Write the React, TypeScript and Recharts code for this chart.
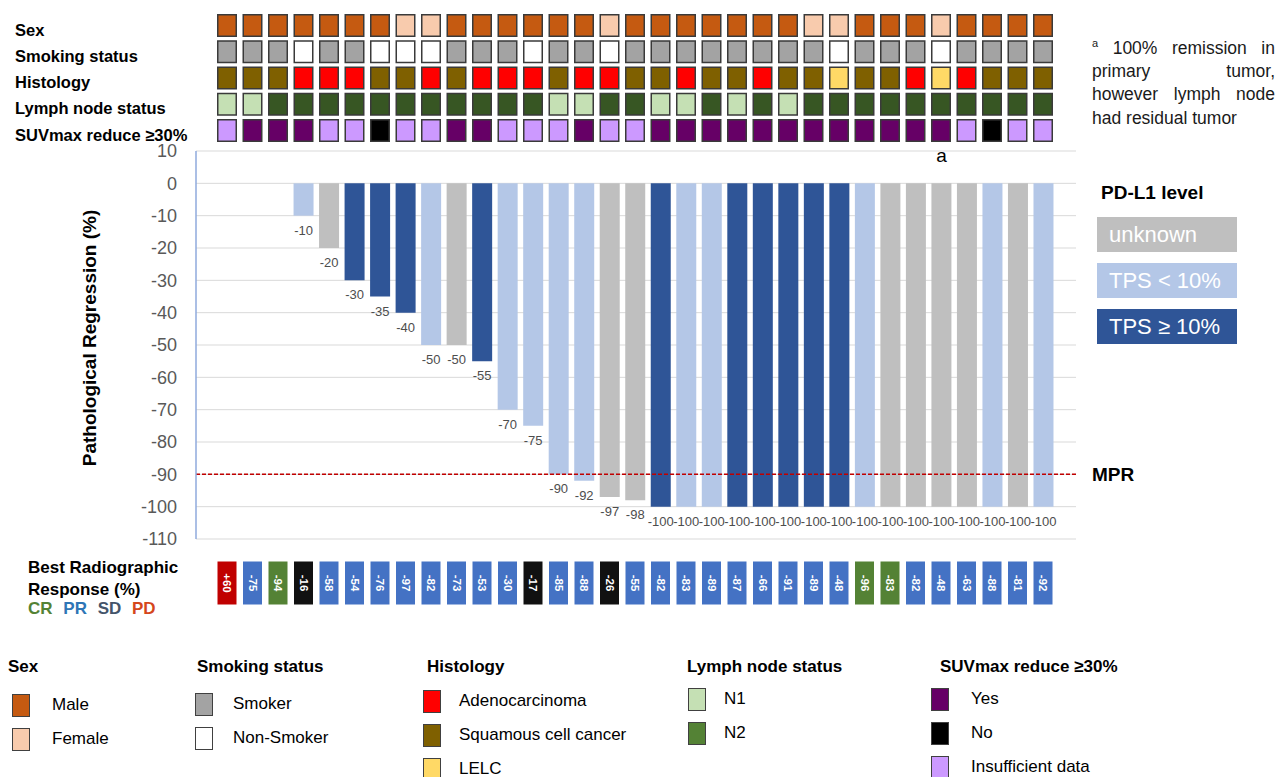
import React from 'react'
import {
  Bar,
  BarChart,
  CartesianGrid,
  Cell,
  LabelList,
  ReferenceLine,
  Scatter,
  ScatterChart,
  XAxis,
  YAxis,
} from 'recharts'

const FONT = '"Liberation Sans", Arial, Helvetica, sans-serif'

// one entry per patient, left to right
const sex = ['M', 'M', 'M', 'M', 'M', 'M', 'M', 'F', 'F', 'M', 'M', 'M', 'M', 'M', 'M', 'F', 'M', 'M', 'M', 'M', 'M', 'M', 'M', 'F', 'F', 'M', 'M', 'M', 'F', 'M', 'M', 'M', 'M']
const smoking = ['S', 'S', 'S', 'N', 'S', 'S', 'N', 'N', 'N', 'S', 'S', 'S', 'N', 'S', 'S', 'N', 'S', 'S', 'S', 'S', 'S', 'S', 'S', 'S', 'N', 'S', 'S', 'S', 'N', 'S', 'S', 'S', 'S']
const histology = ['Sq', 'Sq', 'Sq', 'A', 'A', 'A', 'Sq', 'Sq', 'A', 'Sq', 'A', 'A', 'A', 'Sq', 'A', 'A', 'Sq', 'Sq', 'A', 'Sq', 'Sq', 'A', 'Sq', 'Sq', 'L', 'Sq', 'Sq', 'A', 'L', 'A', 'Sq', 'Sq', 'Sq']
const lymphNode = ['N1', 'N1', 'N2', 'N2', 'N2', 'N2', 'N2', 'N2', 'N2', 'N2', 'N2', 'N2', 'N2', 'N1', 'N1', 'N2', 'N2', 'N1', 'N1', 'N2', 'N1', 'N2', 'N1', 'N2', 'N2', 'N2', 'N2', 'N2', 'N2', 'N2', 'N2', 'N2', 'N2']
const suvReduce = ['I', 'Y', 'Y', 'Y', 'I', 'I', 'N', 'I', 'I', 'Y', 'Y', 'I', 'I', 'I', 'Y', 'I', 'I', 'Y', 'Y', 'Y', 'Y', 'Y', 'Y', 'Y', 'Y', 'Y', 'Y', 'Y', 'Y', 'I', 'N', 'I', 'I']

const regression: (number | null)[] = [null, null, null, -10, -20, -30, -35, -40, -50, -50, -55, -70, -75, -90, -92, -97, -98, -100, -100, -100, -100, -100, -100, -100, -100, -100, -100, -100, -100, -100, -100, -100, -100]
const pdl1: (string | null)[] = [null, null, null, 'low', 'unknown', 'high', 'high', 'high', 'low', 'unknown', 'high', 'low', 'low', 'low', 'low', 'unknown', 'unknown', 'high', 'low', 'low', 'high', 'high', 'high', 'high', 'high', 'low', 'unknown', 'unknown', 'unknown', 'unknown', 'low', 'unknown', 'low']
const notes: Record<number, string> = { 28: 'a' }

const radioResponse = [60, -75, -94, -16, -58, -54, -76, -97, -82, -73, -53, -30, -17, -85, -88, -26, -55, -82, -83, -89, -87, -66, -91, -89, -48, -96, -83, -82, -48, -63, -88, -81, -92]
const radioCategory = ['PD', 'PR', 'CR', 'SD', 'PR', 'PR', 'PR', 'PR', 'PR', 'PR', 'PR', 'PR', 'SD', 'PR', 'PR', 'SD', 'PR', 'PR', 'PR', 'PR', 'PR', 'PR', 'PR', 'PR', 'PR', 'CR', 'CR', 'PR', 'PR', 'PR', 'PR', 'PR', 'PR']

const rowNames = ['Sex', 'Smoking status', 'Histology', 'Lymph node status', 'SUVmax reduce \u226530%']
const regressionTicks = [10, 0, -10, -20, -30, -40, -50, -60, -70, -80, -90, -100, -110]

const sexColors: Record<string, string> = { M: '#c55a11', F: '#f8cbad' }
const smokingColors: Record<string, string> = { S: '#a3a3a3', N: '#ffffff' }
const histologyColors: Record<string, string> = { A: '#ff0000', Sq: '#7f6000', L: '#ffd966' }
const lymphColors: Record<string, string> = { N1: '#c5e0b4', N2: '#375623' }
const suvColors: Record<string, string> = { Y: '#660066', N: '#000000', I: '#cc99ff' }
const pdl1Colors: Record<string, string> = { unknown: '#bfbfbf', low: '#b4c7e7', high: '#2f5597' }
const radioColors: Record<string, string> = { PD: '#c00000', PR: '#4472c4', CR: '#548235', SD: '#111111' }

const heatRows = [
  { codes: sex, colors: sexColors },
  { codes: smoking, colors: smokingColors },
  { codes: histology, colors: histologyColors },
  { codes: lymphNode, colors: lymphColors },
  { codes: suvReduce, colors: suvColors },
]

const heatCells = heatRows.flatMap((r, row) =>
  r.codes.map((code, col) => ({ col, row, color: r.colors[code] })),
)

const barData = regression.map((value, i) => ({
  id: `P${i + 1}`,
  regression: value,
  level: pdl1[i],
  note: notes[i],
}))

const responseCells = radioResponse.map((v, col) => ({
  col,
  row: 0,
  text: v > 0 ? `+${v}` : `${v}`,
  color: radioColors[radioCategory[col]],
}))

const legendGroups = [
  { title: 'Sex', tx: 8, bx: 12, lx: 52, top: 694, items: [['Male', '#c55a11'], ['Female', '#f8cbad']] },
  { title: 'Smoking status', tx: 197, bx: 195, lx: 233, top: 693, items: [['Smoker', '#a3a3a3'], ['Non-Smoker', '#ffffff']] },
  { title: 'Histology', tx: 427, bx: 423, lx: 459, top: 690, items: [['Adenocarcinoma', '#ff0000'], ['Squamous cell cancer', '#7f6000'], ['LELC', '#ffd966']] },
  { title: 'Lymph node status', tx: 687, bx: 688, lx: 724, top: 688, items: [['N1', '#c5e0b4'], ['N2', '#548235']] },
  { title: 'SUVmax reduce \u226530%', tx: 940, bx: 931, lx: 971, top: 688, items: [['Yes', '#660066'], ['No', '#000000'], ['Insufficient data', '#cc99ff']] },
]

const pdl1Legend = [
  ['unknown', '#bfbfbf'],
  ['TPS < 10%', '#b4c7e7'],
  ['TPS \u2265 10%', '#2f5597'],
]

function Txt({ x, y, children, style }: { x: number; y: number; children: React.ReactNode; style?: React.CSSProperties }) {
  return (
    <div style={{ position: 'absolute', left: x, top: y - 10, lineHeight: '20px', whiteSpace: 'nowrap', ...style }}>
      {children}
    </div>
  )
}

function renderHeatCell(props: any) {
  const { cx, cy, payload } = props
  return <rect x={cx - 9.25} y={cy - 10.75} width={18.5} height={21.5} fill={payload.color} stroke="#3a3a3a" strokeWidth={1.5} />
}

function renderResponseCell(props: any) {
  const { cx, cy, payload } = props
  return (
    <g>
      <rect x={cx - 9.5} y={cy - 21.5} width={19} height={43} fill={payload.color} />
      <text
        x={cx}
        y={cy}
        transform={`rotate(90 ${cx} ${cy})`}
        textAnchor="middle"
        dominantBaseline="central"
        fill="#ffffff"
        fontSize={11.5}
        fontWeight="bold"
        fontFamily={FONT}
      >
        {payload.text}
      </text>
    </g>
  )
}

function renderRowTick(props: any) {
  const { y, payload } = props
  return (
    <text x={15} y={Number(y) + 10} fontSize={16.5} fontWeight="bold" fill="#000" fontFamily={FONT}>
      {rowNames[payload.value]}
    </text>
  )
}

function renderBarLabel(props: any) {
  const { x, y, width, height, value } = props
  if (value === null || value === undefined) return null
  const bottom = Math.max(Number(y), Number(y) + Number(height))
  return (
    <text x={Number(x) + Number(width) / 2} y={bottom + 19} textAnchor="middle" fill="#4d4d4d" fontSize={13} fontFamily={FONT}>
      {value}
    </text>
  )
}

function renderNote(props: any) {
  const { x, y, width, height, value } = props
  if (!value) return null
  const top = Math.min(Number(y), Number(y) + Number(height))
  return (
    <text x={Number(x) + Number(width) / 2} y={top - 21} textAnchor="middle" fill="#000" fontSize={19} fontFamily={FONT}>
      {value}
    </text>
  )
}

export default function App() {
  return (
    <div
      style={{
        position: 'absolute',
        left: 0,
        top: 0,
        width: 1276,
        height: 777,
        background: '#fff',
        overflow: 'hidden',
        fontFamily: FONT,
        color: '#000',
      }}
    >
      {/* patient characteristics */}
      <div style={{ position: 'absolute', left: 0, top: 0 }}>
        <ScatterChart width={1080} height={150} margin={{ top: 12.375, right: 24.25, bottom: 6.375, left: 0 }}>
          <XAxis type="number" dataKey="col" domain={[-0.5, 32.5]} hide allowDataOverflow />
          <YAxis
            type="number"
            dataKey="row"
            domain={[-0.5, 4.5]}
            reversed
            allowDataOverflow
            width={214.25}
            ticks={[0, 1, 2, 3, 4]}
            interval={0}
            axisLine={false}
            tickLine={false}
            tick={renderRowTick}
          />
          <Scatter data={heatCells} shape={renderHeatCell} isAnimationActive={false} />
        </ScatterChart>
      </div>

      {/* pathological regression */}
      <div style={{ position: 'absolute', left: 0, top: 0 }}>
        <BarChart width={1276} height={560} data={barData} margin={{ top: 151, right: 200, bottom: 21, left: 0 }}>
          <CartesianGrid vertical={false} stroke="#d9d9d9" />
          <XAxis dataKey="id" hide padding={{ left: 18, right: 20 }} />
          <YAxis
            width={196}
            domain={[-110, 10]}
            ticks={regressionTicks}
            interval={0}
            allowDataOverflow
            tickLine={false}
            tickSize={0}
            tickMargin={19}
            axisLine={{ stroke: '#8faadc', strokeWidth: 1.5 }}
            tick={{ fill: '#595959', fontSize: 18, fontFamily: FONT }}
          />
          <Bar dataKey="regression" barSize={20} isAnimationActive={false}>
            {barData.map((d) => (
              <Cell key={d.id} fill={d.level ? pdl1Colors[d.level] : 'none'} />
            ))}
            <LabelList dataKey="regression" content={renderBarLabel} />
            <LabelList dataKey="note" content={renderNote} />
          </Bar>
          <ReferenceLine
            y={-90}
            stroke="#c00000"
            strokeWidth={1.5}
            strokeDasharray="4 2"
            label={{ value: 'MPR', position: 'right', offset: 16, fill: '#000', fontSize: 19, fontWeight: 'bold', fontFamily: FONT }}
          />
        </BarChart>
      </div>

      {/* best radiographic response */}
      <div style={{ position: 'absolute', left: 0, top: 540 }}>
        <ScatterChart width={1080} height={86} margin={{ top: 0, right: 24.25, bottom: 0, left: 214.25 }}>
          <XAxis type="number" dataKey="col" domain={[-0.5, 32.5]} hide allowDataOverflow />
          <YAxis type="number" dataKey="row" domain={[-1, 1]} hide allowDataOverflow />
          <Scatter data={responseCells} shape={renderResponseCell} isAnimationActive={false} />
        </ScatterChart>
      </div>

      {/* y axis title */}
      <div
        style={{
          position: 'absolute',
          left: 90 - 160,
          top: 338 - 12,
          width: 320,
          lineHeight: '24px',
          textAlign: 'center',
          fontSize: 19,
          fontWeight: 'bold',
          transform: 'rotate(-90deg)',
          whiteSpace: 'nowrap',
        }}
      >
        Pathological Regression (%)
      </div>

      {/* footnote */}
      <div style={{ position: 'absolute', left: 1092, top: 32, width: 183, fontSize: 17.5, lineHeight: '23.3px', color: '#1a1a1a' }}>
        <div style={{ textAlign: 'justify', textAlignLast: 'justify' }}>
          <sup style={{ fontSize: 11 }}>a</sup> 100% remission in
        </div>
        <div style={{ textAlign: 'justify', textAlignLast: 'justify' }}>primary tumor,</div>
        <div style={{ textAlign: 'justify', textAlignLast: 'justify' }}>however lymph node</div>
        <div>had residual tumor</div>
      </div>

      {/* PD-L1 legend */}
      <Txt x={1101} y={193} style={{ fontSize: 19, fontWeight: 'bold' }}>
        PD-L1 level
      </Txt>
      {pdl1Legend.map(([label, color], i) => (
        <div
          key={label}
          style={{
            position: 'absolute',
            left: 1097,
            top: 217 + i * 46,
            width: 140,
            height: 35,
            background: color,
            color: '#fff',
            fontSize: 22,
            lineHeight: '35px',
            paddingLeft: 12,
            boxSizing: 'border-box',
            whiteSpace: 'nowrap',
          }}
        >
          {label}
        </div>
      ))}

      {/* radiographic response caption */}
      <Txt x={28} y={568} style={{ fontSize: 17, fontWeight: 'bold' }}>
        Best Radiographic
      </Txt>
      <Txt x={28} y={590} style={{ fontSize: 17, fontWeight: 'bold' }}>
        Response (%)
      </Txt>
      <Txt x={28} y={609} style={{ fontSize: 17, fontWeight: 'bold', wordSpacing: 6 }}>
        <span style={{ color: '#548235' }}>CR</span> <span style={{ color: '#2e75b6' }}>PR</span>{' '}
        <span style={{ color: '#44546a' }}>SD</span> <span style={{ color: '#d5471b' }}>PD</span>
      </Txt>

      {/* bottom legends */}
      {legendGroups.map((g) => (
        <React.Fragment key={g.title}>
          <Txt x={g.tx} y={667} style={{ fontSize: 17, fontWeight: 'bold' }}>
            {g.title}
          </Txt>
          {g.items.map(([label, color], i) => (
            <React.Fragment key={label}>
              <div
                style={{
                  position: 'absolute',
                  left: g.bx,
                  top: g.top + i * 34,
                  width: 18,
                  height: 23,
                  background: color,
                  border: '1.5px solid #404040',
                  boxSizing: 'border-box',
                }}
              />
              <Txt x={g.lx} y={g.top + i * 34 + 11} style={{ fontSize: 17 }}>
                {label}
              </Txt>
            </React.Fragment>
          ))}
        </React.Fragment>
      ))}
    </div>
  )
}
